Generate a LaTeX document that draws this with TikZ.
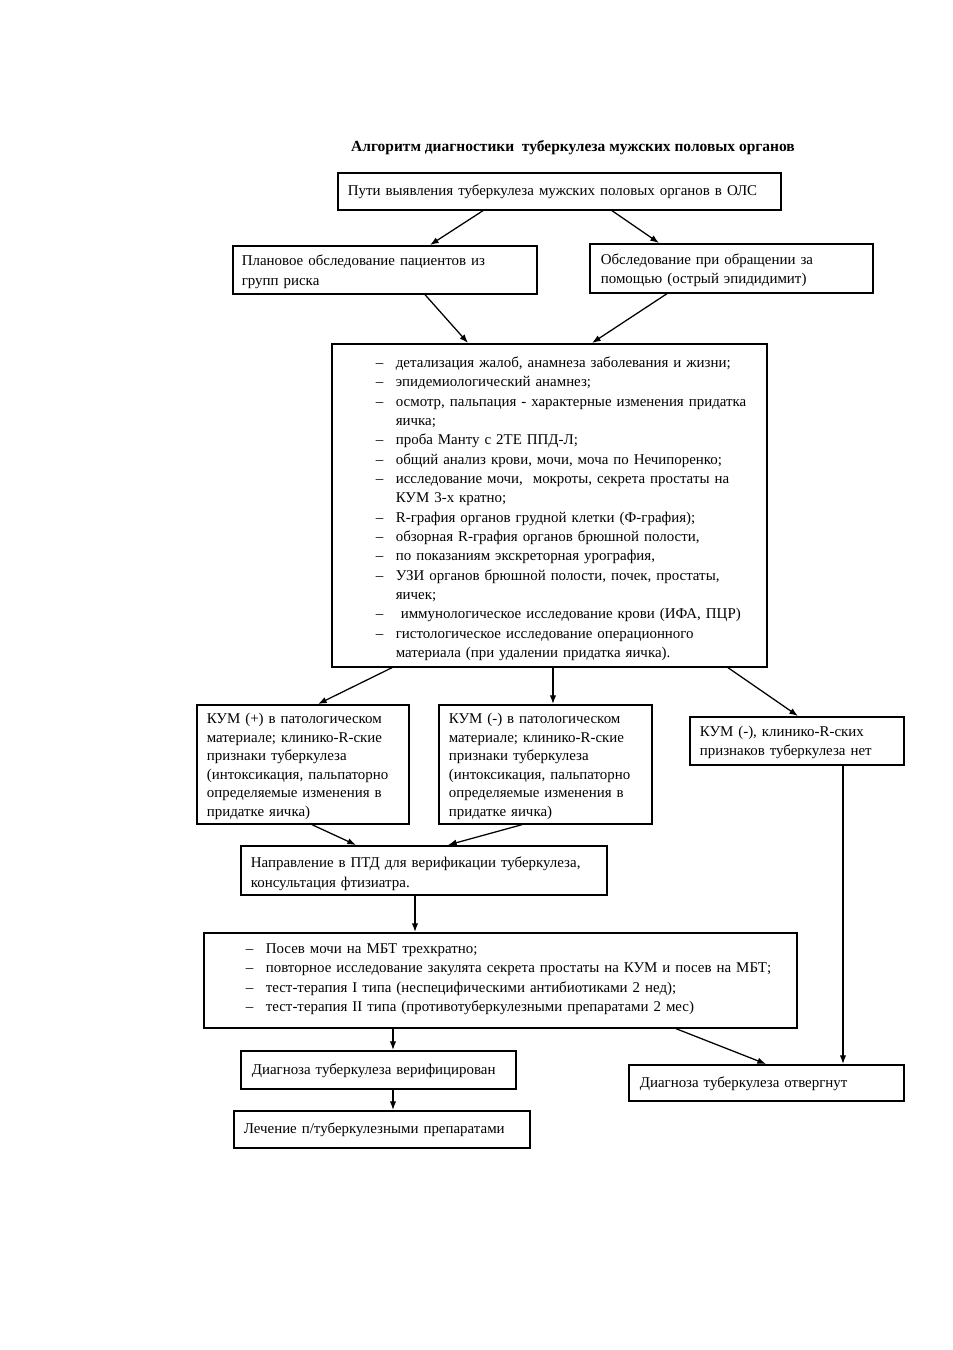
\documentclass[tikz,border=0pt]{standalone}
\usepackage{fontspec}
\setmainfont{Liberation Serif}
\usetikzlibrary{arrows.meta}
\newdimen\pxu \pxu=0.75pt
\newdimen\offs
\newcommand\pl[1]{\par\noindent\hbox{\hskip\offs #1}}
\newcommand\di[1]{\par\noindent\hbox{\hskip\offs\hbox to 20\pxu{–\hfil}#1}}
\newcommand\ci[1]{\par\noindent\hbox{\hskip\offs\hskip20\pxu #1}}
\newcommand\up[1]{\par\vskip#1\pxu\hrule height0pt width0pt\relax}
\begin{document}
\begin{tikzpicture}[x=0.75pt,y=-0.75pt,
  box/.style={draw,line width=1.25pt,inner sep=0pt,anchor=north west,align=left,
    font=\fontsize{11.2}{14.5}\selectfont},
  kbox/.style={box,font=\fontsize{11.2}{13.9}\selectfont},
  arr/.style={-{Latex[length=6.5pt,width=4.8pt]},line width=0.95pt}]
\useasboundingbox (0,0) rectangle (953,1350);
\fill[white] (0,0) rectangle (953,1350);

\node[font=\bfseries\fontsize{11.6}{14}\selectfont] (title) at (573,148)
  {Алгоритм диагностики\ \ туберкулеза мужских половых органов};

\node[box,text width=332.25pt,minimum height=27.75pt] (top) at (337,172)
  {\offs=10\pxu\pl{Пути выявления туберкулеза мужских половых органов в ОЛС}\up{8}};

\node[box,text width=228pt,minimum height=36pt] (l2a) at (232,245)
  {\offs=9\pxu\pl{Плановое обследование пациентов из}\pl{групп риска}\up{5}};

\node[box,text width=212.25pt,minimum height=36.75pt] (l2b) at (589,243)
  {\offs=11\pxu\pl{Обследование при обращении за}\pl{помощью (острый эпидидимит)}\up{5}};

\node[box,text width=326.25pt,minimum height=242.25pt] (big) at (331,343)
  {\offs=44\pxu
   \di{детализация жалоб, анамнеза заболевания и жизни;}
   \di{эпидемиологический анамнез;}
   \di{осмотр, пальпация - характерные изменения придатка}
   \ci{яичка;}
   \di{проба Манту с 2ТЕ ППД-Л;}
   \di{общий анализ крови, мочи, моча по Нечипоренко;}
   \di{исследование мочи,\ \ мокроты, секрета простаты на}
   \ci{КУМ 3-х кратно;}
   \di{R-графия органов грудной клетки (Ф-графия);}
   \di{обзорная R-графия органов брюшной полости,}
   \di{по показаниям экскреторная урография,}
   \di{УЗИ органов брюшной полости, почек, простаты,}
   \ci{яичек;}
   \di{\ иммунологическое исследование крови (ИФА, ПЦР)}
   \di{гистологическое исследование операционного}
   \ci{материала (при удалении придатка яичка).}\up{2}};

\node[kbox,text width=159pt,minimum height=89.25pt] (kplus) at (196,704)
  {\offs=10\pxu
   \pl{КУМ (+) в патологическом}\pl{материале; клинико-R-ские}\pl{признаки туберкулеза}
   \pl{(интоксикация, пальпаторно}\pl{определяемые изменения в}\pl{придатке яичка)}\up{4}};

\node[kbox,text width=159.75pt,minimum height=89.25pt] (kminus) at (438,704)
  {\offs=10\pxu
   \pl{КУМ (-) в патологическом}\pl{материале; клинико-R-ские}\pl{признаки туберкулеза}
   \pl{(интоксикация, пальпаторно}\pl{определяемые изменения в}\pl{придатке яичка)}\up{4}};

\node[box,text width=160.5pt,minimum height=35.25pt] (kno) at (689,716)
  {\offs=10\pxu\pl{КУМ (-), клинико-R-ских}\pl{признаков туберкулеза нет}\up{6}};

\node[box,text width=274.5pt,minimum height=36.75pt] (dir) at (240,845)
  {\offs=10\pxu\pl{Направление в ПТД для верификации туберкулеза,}\pl{консультация фтизиатра.}\up{2}};

\node[box,text width=444.75pt,minimum height=71.25pt] (list2) at (203,932)
  {\offs=42\pxu
   \di{Посев мочи на МБТ трехкратно;}
   \di{повторное исследование закулята секрета простаты на КУМ и посев на МБТ;}
   \di{тест-терапия I типа (неспецифическими антибиотиками 2 нед);}
   \di{тест-терапия II типа (противотуберкулезными препаратами 2 мес)}\up{12}};

\node[box,text width=206.25pt,minimum height=28.5pt] (ver) at (240,1050)
  {\offs=11\pxu\pl{Диагноза туберкулеза верифицирован}\up{6}};

\node[box,text width=222pt,minimum height=27.75pt] (treat) at (233,1110)
  {\offs=10\pxu\pl{Лечение п/туберкулезными препаратами}\up{8}};

\node[box,text width=206.25pt,minimum height=27pt] (rej) at (628,1064)
  {\offs=11\pxu\pl{Диагноза туберкулеза отвергнут}\up{6}};

\draw[arr] ([xshift=109.5pt]top.south west) -- ([xshift=148.5pt]l2a.north west);
\draw[arr] ([xshift=206.25pt]top.south west) -- ([xshift=52.5pt]l2b.north west);
\draw[arr] ([xshift=144.75pt]l2a.south west) -- ([xshift=102.75pt]big.north west);
\draw[arr] ([xshift=58.5pt]l2b.south west) -- ([xshift=195.75pt]big.north west);
\draw[arr] ([xshift=45.75pt]big.south west) -- ([xshift=91.5pt]kplus.north west);
\draw[arr] ([xshift=166.5pt]big.south west) -- ([xshift=86.25pt]kminus.north west);
\draw[arr] ([xshift=297.75pt]big.south west) -- ([xshift=81.75pt]kno.north west);
\draw[arr] ([xshift=87pt]kplus.south west) -- ([xshift=87pt]dir.north west);
\draw[arr] ([xshift=63pt]kminus.south west) -- ([xshift=156pt]dir.north west);
\draw[arr] ([xshift=131.25pt]dir.south west) -- ([xshift=159pt]list2.north west);
\draw[arr] ([xshift=142.5pt]list2.south west) -- ([xshift=114.75pt]ver.north west);
\draw[arr] ([xshift=114.75pt]ver.south west) -- ([xshift=120pt]treat.north west);
\draw[arr] ([xshift=354.75pt]list2.south west) -- ([xshift=103.5pt]rej.north west);
\draw[arr] ([xshift=115.5pt]kno.south west) -- ([xshift=161.25pt]rej.north west);
\end{tikzpicture}
\end{document}
